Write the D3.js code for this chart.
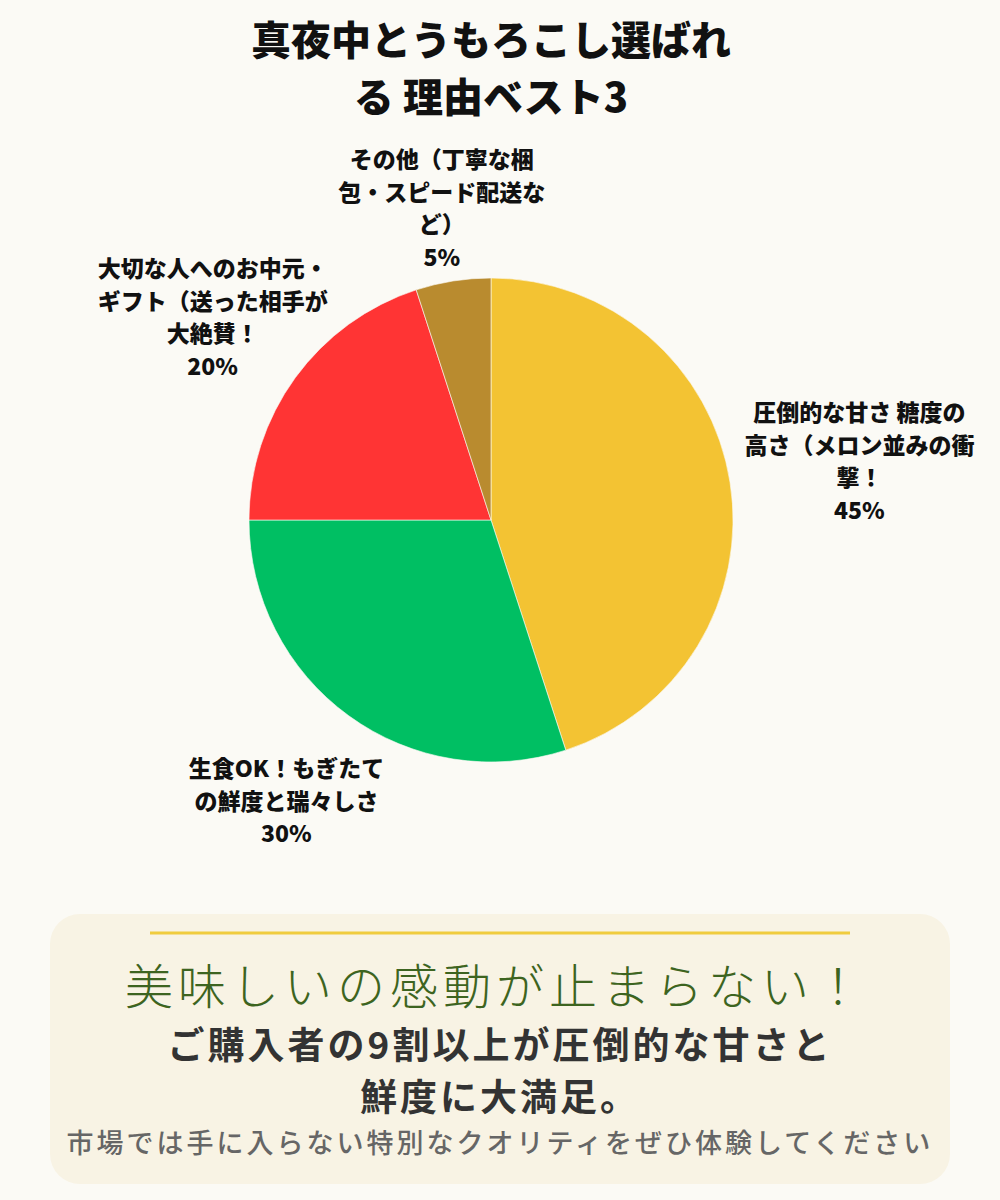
<!DOCTYPE html>
<html>
<head>
<meta charset="utf-8">
<script src="https://cdn.jsdelivr.net/npm/d3@7"></script>
<style>
  body { margin: 0; background: #fbfaf5; }
  svg { display: block; font-family: "Noto Sans CJK JP", "Noto Sans", sans-serif; }
</style>
</head>
<body>
<div id="container"></div>
<script>
/* DATA */
const titleLines = ["真夜中とうもろこし選ばれ", "る 理由ベスト3"];
const categories = [
  "圧倒的な甘さ 糖度の高さ（メロン並みの衝撃！",
  "生食OK！もぎたての鮮度と瑞々しさ",
  "大切な人へのお中元・ギフト（送った相手が大絶賛！",
  "その他（丁寧な梱包・スピード配送など）"
];
const values = [45, 30, 20, 5];
const labelLines = [
  ["圧倒的な甘さ 糖度の", "高さ（メロン並みの衝", "撃！"],
  ["生食OK！もぎたて", "の鮮度と瑞々しさ"],
  ["大切な人へのお中元・", "ギフト（送った相手が", "大絶賛！"],
  ["その他（丁寧な梱", "包・スピード配送な", "ど）"]
];
const catchCopy = "美味しいの感動が止まらない！";
const bodyLines = ["ご購入者の9割以上が圧倒的な甘さと", "鮮度に大満足。"];
const footNote = "市場では手に入らない特別なクオリティをぜひ体験してください";

/* LAYOUT */
const width = 1000, height = 1200;
const cx = 491, cy = 520, radius = 242;
const colors = ["#f3c333", "#00bf63", "#ff3434", "#b98b2f"];
// distance of each label block centre from the pie centre
const labelRadius = [373, 348, 344, 315];
const lineH = 32.5;

const svg = d3.select("#container").append("svg")
  .attr("width", width)
  .attr("height", height);

svg.append("rect")
  .attr("width", width)
  .attr("height", height)
  .attr("fill", "#fbfaf5");

/* TITLE */
svg.append("g").selectAll("text")
  .data(titleLines)
  .join("text")
  .attr("x", cx)
  .attr("y", (d, i) => 55 + i * 57)
  .attr("text-anchor", "middle")
  .attr("font-size", 40)
  .attr("font-weight", 900)
  .attr("fill", "#111")
  .text(d => d);

/* PIE */
const pie = d3.pie().sort(null).value(d => d);
const arcs = pie(values);
const arc = d3.arc().innerRadius(0).outerRadius(radius);

const g = svg.append("g")
  .attr("transform", "translate(" + cx + "," + cy + ")");

g.selectAll("path")
  .data(arcs)
  .join("path")
  .attr("d", arc)
  .attr("fill", (d, i) => colors[i])
  .attr("stroke", "#fbfaf5")
  .attr("stroke-width", 0.6);

/* LABELS */
arcs.forEach((a, i) => {
  const mid = (a.startAngle + a.endAngle) / 2;
  const lx = Math.sin(mid) * labelRadius[i];
  const ly = -Math.cos(mid) * labelRadius[i];
  const lines = labelLines[i].concat([values[i] + "%"]);
  const top = ly - (lines.length - 1) * lineH / 2;
  g.append("g").selectAll("text")
    .data(lines)
    .join("text")
    .attr("x", lx)
    .attr("y", (d, j) => top + j * lineH)
    .attr("dy", "0.36em")
    .attr("text-anchor", "middle")
    .attr("font-size", 23)
    .attr("font-weight", 900)
    .attr("fill", "#111")
    .text(d => d);
});

/* MESSAGE BOX */
svg.append("rect")
  .attr("x", 50)
  .attr("y", 914)
  .attr("width", 900)
  .attr("height", 270)
  .attr("rx", 30)
  .attr("fill", "#f8f3e4");

svg.append("line")
  .attr("x1", 150).attr("x2", 850)
  .attr("y1", 933).attr("y2", 933)
  .attr("stroke", "#f0cc3e")
  .attr("stroke-width", 3);

svg.append("text")
  .attr("x", cx + 5)
  .attr("y", 1004)
  .attr("text-anchor", "middle")
  .attr("font-size", 48)
  .attr("font-weight", 300)
  .attr("letter-spacing", 5)
  .attr("fill", "#3d6420")
  .text(catchCopy);

svg.append("g").selectAll("text")
  .data(bodyLines)
  .join("text")
  .attr("x", 500)
  .attr("y", (d, i) => 1059 + i * 52)
  .attr("text-anchor", "middle")
  .attr("font-size", 37)
  .attr("font-weight", 700)
  .attr("letter-spacing", 3)
  .attr("fill", "#333")
  .text(d => d);

svg.append("text")
  .attr("x", 500)
  .attr("y", 1153)
  .attr("text-anchor", "middle")
  .attr("font-size", 27)
  .attr("font-weight", 500)
  .attr("letter-spacing", 3)
  .attr("fill", "#666")
  .text(footNote);
</script>
</body>
</html>
